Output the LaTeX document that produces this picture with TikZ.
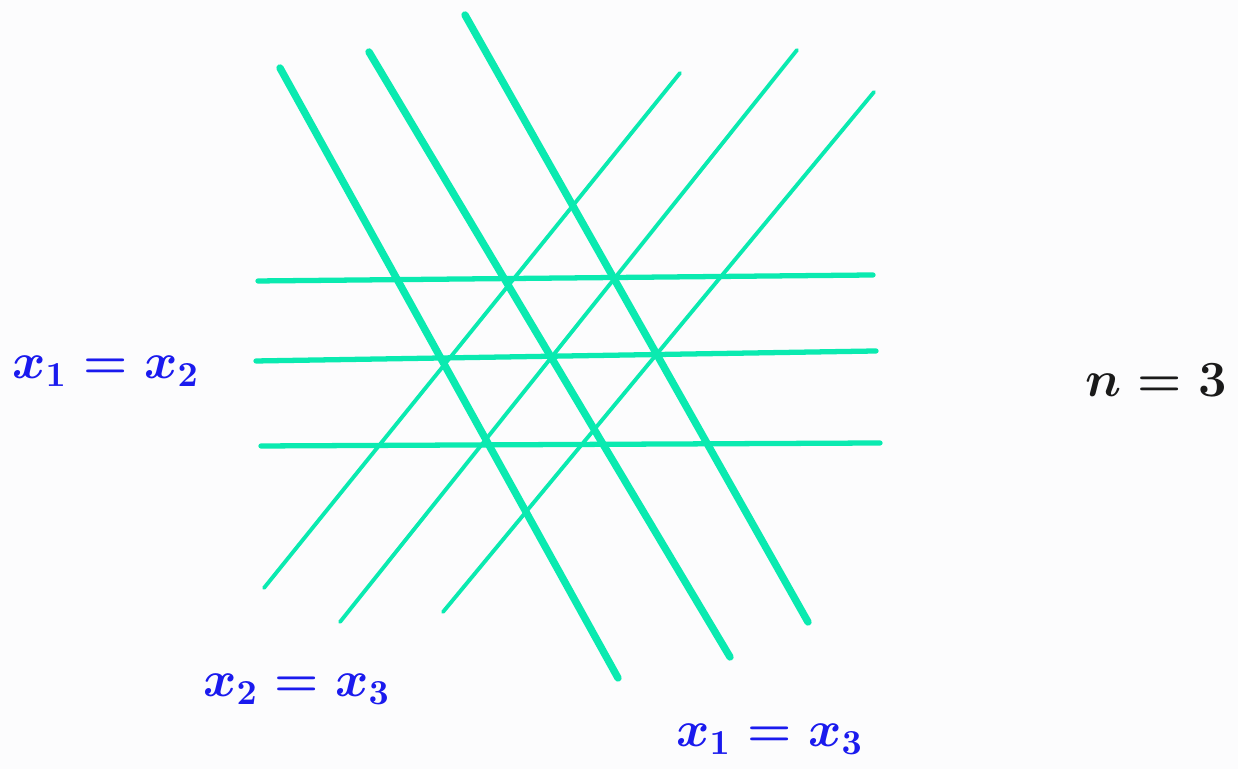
\documentclass[tikz,border=0pt]{standalone}
\usepackage{xcolor}
\usepackage{tikz}
\definecolor{SketchGreen}{HTML}{0AEAB0}
\definecolor{SketchBlue}{HTML}{1A1AEE}
\definecolor{SketchInk}{HTML}{1A1A1A}
\definecolor{SketchPaper}{HTML}{FCFCFD}

\begin{document}
\begin{tikzpicture}[
    heavy/.style={SketchGreen, line width=2.1pt, line cap=round},
    flat/.style={SketchGreen, line width=1.5pt, line cap=round},
    light/.style={SketchGreen, line width=1.1pt, line cap=round},
    wall/.style={SketchBlue, font=\fontsize{14}{17}\selectfont\boldmath},
  ]
                \fill[SketchPaper] (0,0) rectangle (12.38,7.69);
                \useasboundingbox (0,0) rectangle (12.38,7.69);

                % horizontal lines
                \draw[flat] (2.58,4.88) -- (8.73,4.94);
                \draw[flat] (2.56,4.08) -- (8.76,4.18);
                \draw[flat] (2.61,3.23) -- (8.80,3.26);

                % falling lines
                \draw[heavy] (2.80,7.01) -- (6.18,0.91);
                \draw[heavy] (3.69,7.17) -- (7.30,1.12);
                \draw[heavy] (4.65,7.54) -- (8.08,1.47);

                % rising lines
                \draw[light] (2.64,1.81) -- (6.80,6.96);
                \draw[light] (3.40,1.47) -- (7.97,7.19);
                \draw[light] (4.43,1.57) -- (8.74,6.77);

                \node[wall] (w12) at (1.06, 3.98) {$x_1 = x_2$};
                \node[wall] (w23) at (2.97, 0.80) {$x_2 = x_3$};
                \node[wall] (w13) at (7.70, 0.30) {$x_1 = x_3$};
                \node[SketchInk, font=\fontsize{14}{17}\selectfont\boldmath] (dim) at (11.56, 3.89) {$n = 3$};
            \end{tikzpicture}
\end{document}
